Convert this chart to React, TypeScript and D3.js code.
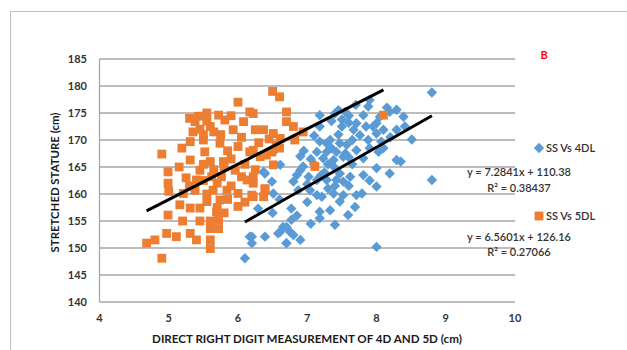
import React from "react";
import * as d3 from "d3";

const xTicks = [4, 5, 6, 7, 8, 9, 10];
const yTicks = [140, 145, 150, 155, 160, 165, 170, 175, 180, 185];

// SS Vs 4DL (blue diamonds)
const dl4X = [6.51, 6.61, 6.39, 6.49, 6.51, 6.29, 6.17, 6.39, 6.1, 6.61, 6.7, 6.7,
  8.8, 7.9, 7.88, 7.18, 7.4, 7.5, 7.6, 7.71, 7.81, 8.19, 8.29, 8.39, 8.0, 8.1, 8.0, 8.29, 8.41, 8.51,
  7.18, 7.5, 7.67, 7.76, 7.88, 8.07, 7.28, 7.18, 7.33, 7.47, 7.57, 7.14, 7.28, 7.42, 7.23, 7.38, 7.52,
  7.71, 7.81, 8.03, 8.29, 8.0, 8.19, 8.8, 8.0, 7.81, 7.62, 7.47, 7.38, 6.94, 6.9, 7.02, 7.14, 7.28,
  7.42, 7.52, 6.8, 6.87, 7.04, 7.14, 7.21, 7.38, 7.52, 7.71, 7.79, 7.47, 7.33, 7.18, 7.18, 7.4, 7.69,
  7.59, 6.77, 6.77, 6.65, 6.58, 6.75, 6.8, 6.9, 6.7, 6.2, 6.2, 8.0, 6.37,
  6.95, 7.05, 7.6, 7.45, 7.95, 8.2, 7.9, 7.65, 7.3, 7.0, 8.35,
  7.25, 7.35, 7.45, 7.55, 7.3, 7.1, 7.2, 7.6, 7.4, 7.0, 6.85, 7.65, 7.85, 8.05, 7.55, 7.35, 7.1, 6.9,
  6.6, 6.5, 6.85, 7.05, 7.9, 7.6, 8.1, 8.15, 7.7];
const dl4Y = [167.8, 165.4, 163.8, 162.3, 160.1, 157.3, 152.1, 152.1, 148.1, 153, 153.9, 150.9,
  178.8, 177.4, 176.2, 174.6, 174.9, 173.8, 173.2, 173.1, 174.6, 175.2, 175.6, 174.3, 173.1, 171.9, 171.2, 171.9, 172.5, 170.1,
  172.5, 172.5, 171.9, 170.9, 170, 169.7, 169.4, 169.7, 170, 169.4, 169.1, 167.8, 167.8, 167.8, 166.6, 166.3, 166.9,
  168.1, 166.6, 167.8, 166.3, 164.8, 163.8, 162.6, 161.4, 163.5, 163.2, 163.8, 165.1, 165.1, 164.4, 163.2, 162.6, 162.6,
  162.6, 162.3, 162.3, 160.7, 160.7, 159.8, 159.5, 160.1, 159.8, 159.8, 160.1, 158.6, 157, 156.7, 155.5, 154.3, 157.6,
  156.1, 157.3, 155.2, 153.9, 152.7, 153, 152.4, 151.5, 150.9, 152.1, 150.9, 150.2, 164.1,
  168, 166.5, 174.5, 175.5, 172.5, 170.5, 168.5, 165.5, 161, 158.5, 166,
  164, 168.5, 171, 167.5, 165.5, 165.5, 163.5, 161.5, 161.5, 161.8, 163.5, 170, 172.5, 174.3, 175.2, 173.5, 170.8, 167,
  159, 156.5, 156, 154.5, 162.5, 166.8, 168.5, 176, 176.5];

// SS Vs 5DL (orange squares)
const dl5X = [6.5, 6.6, 6.0, 6.7, 5.43, 5.38, 5.72, 5.81, 5.6, 6.17, 6.08, 5.93, 6.25, 6.37, 6.51, 6.7,
  4.9, 5.19, 5.31, 5.31, 5.5, 5.52, 5.74, 5.6, 5.79, 6.0, 6.17, 6.32, 6.49, 6.51, 5.45, 5.62, 5.76,
  5.96, 6.05, 6.13, 4.99, 4.99, 5.21, 5.4, 5.38, 5.64, 5.84, 5.55, 5.74, 6.0, 6.2, 6.39, 6.37, 5.31,
  5.16, 5.45, 5.69, 6.0, 4.99, 5.72, 5.6, 5.72, 4.97, 5.11, 5.31, 5.4, 5.6, 5.6, 4.68, 4.8, 4.9,
  6.22, 6.61, 6.82, 6.94, 8.1, 6.22, 6.41, 6.22, 6.22, 6.39, 6.22, 7.11,
  5.0, 5.45, 5.5, 5.65, 5.9, 5.55, 5.5, 5.65, 5.7, 5.55, 5.7, 5.85, 5.6, 5.8, 6.3, 6.45, 6.6,
  5.3, 5.55, 5.35, 5.75, 5.85, 5.9, 6.1, 6.05, 5.25, 5.3, 5.15, 5.5, 5.9, 6.1, 5.45, 5.2, 5.8, 6.25, 6.55, 6.8];
const dl5Y = [179, 178, 177, 175.2, 174.4, 173.4, 174.6, 173.7, 172.5, 175.2, 173.4, 171.9, 171.9, 171.9, 171.2, 173.4,
  167.4, 168.5, 169.7, 166.3, 170, 167.8, 169.4, 166, 166, 168.8, 167.8, 166.9, 167.8, 165.4, 164.4, 163.2, 163.2,
  164.4, 163.2, 162.6, 164.1, 162, 160.1, 162.6, 160.7, 160.7, 160.7, 158.6, 158.9, 160.1, 159.8, 161, 159.5, 157.4,
  158, 157.4, 156.7, 157.7, 156.1, 155.2, 153.6, 153.6, 152.7, 152.1, 152.7, 151.5, 151.5, 149.9, 150.9, 151.5, 148.1,
  174.9, 170.3, 170, 171.5, 174.6, 168.1, 167.2, 163.2, 162, 160.7, 159.5, 165.1,
  160.5, 172, 171, 171.5, 174.5, 175, 165.5, 164.5, 162, 160, 157.5, 159, 155, 165, 169.5, 170.2, 168.5,
  174, 173.5, 171.5, 171, 168, 166.5, 165.5, 170.5, 163, 161.5, 165, 162.5, 161.5, 158.5, 155, 155, 156.5, 164.5, 169, 172.5];

const fit4 = { slope: 7.2841, intercept: 110.38, eq: "y = 7.2841x + 110.38", r2: "R² = 0.38437" };
const fit5 = { slope: 6.5601, intercept: 126.16, eq: "y = 6.5601x + 126.16", r2: "R² = 0.27066" };

const BLUE = "#5B9BD5";
const ORANGE = "#ED7D31";
const TXT = "#333333";
const FONT = "Lato, 'Open Sans', sans-serif";

export default function App() {
  const W = 627, H = 350;
  const x = d3.scaleLinear().domain([4, 10]).range([99.5, 515]);
  const y = d3.scaleLinear().domain([140, 185]).range([302, 59]);

  const diamond = "M0,-5.2L5.2,0L0,5.2L-5.2,0Z";
  const square = d3.symbol().type(d3.symbolSquare).size(78)();

  const trend = (xs: number[], f: { slope: number; intercept: number }) => {
    const [x0, x1] = d3.extent(xs) as [number, number];
    return d3.line<number>().x((d) => x(d)).y((d) => y(f.slope * d + f.intercept))([x0, x1]) || "";
  };

  return (
    <svg width={W} height={H} style={{ position: "absolute", left: 0, top: 0, display: "block" }}
      fontFamily={FONT}>
      <rect x={0} y={0} width={W} height={H} fill="#fff" />
      <rect x={10.5} y={11.5} width={W + 20} height={H + 20} fill="none" stroke="#c0c0c0" strokeWidth={1} />
      {yTicks.map((t) => (
        <line key={t} x1={x(4)} x2={x(10)} y1={y(t)} y2={y(t)} stroke="#a6a6a6" strokeWidth={1.3} />
      ))}
      <line x1={x(4)} x2={x(4)} y1={y(185)} y2={y(140)} stroke="#a6a6a6" strokeWidth={1.3} />
      {yTicks.map((t) => (
        <text key={t} x={87} y={y(t)} dy="0.35em" textAnchor="end" fontSize={11} fontWeight="bold" fill={TXT}>{t}</text>
      ))}
      {xTicks.map((t) => (
        <text key={t} x={x(t)} y={318} dy="0.35em" textAnchor="middle" fontSize={11} fontWeight="bold" fill={TXT}>{t}</text>
      ))}
      <text x={307} y={339} dy="0.35em" textAnchor="middle" fontSize={11.6} fontWeight="bold" fill="#1a1a1a">
        DIRECT RIGHT DIGIT MEASUREMENT OF 4D AND 5D (cm)
      </text>
      <text transform={`translate(55,${(y(185) + y(140)) / 2 + 2}) rotate(-90)`} dy="0.35em" textAnchor="middle"
        fontSize={11.4} fontWeight="bold" fill="#1a1a1a">
        STRETCHED STATURE (cm)
      </text>
      {dl4X.map((v, i) => (
        <path key={"b" + i} d={diamond} transform={`translate(${x(v)},${y(dl4Y[i])})`} fill={BLUE} />
      ))}
      {dl5X.map((v, i) => (
        <path key={"o" + i} d={square} transform={`translate(${x(v)},${y(dl5Y[i])})`} fill={ORANGE} />
      ))}
      <path d={trend(dl4X, fit4)} stroke="#000" strokeWidth={3} fill="none" />
      <path d={trend(dl5X, fit5)} stroke="#000" strokeWidth={3} fill="none" />
      <path d={diamond} transform="translate(539,148)" fill={BLUE} />
      <text x={546} y={148} dy="0.35em" fontSize={11} fontWeight={600} fill={TXT}>SS Vs 4DL</text>
      <path d={square} transform="translate(539,216)" fill={ORANGE} />
      <text x={546} y={216} dy="0.35em" fontSize={11} fontWeight={600} fill={TXT}>SS Vs 5DL</text>
      <text x={519} y={172} dy="0.35em" textAnchor="middle" fontSize={11} fontWeight={600} fill={TXT}>{fit4.eq}</text>
      <text x={519} y={188} dy="0.35em" textAnchor="middle" fontSize={11} fontWeight={600} fill={TXT}>{fit4.r2}</text>
      <text x={519} y={237} dy="0.35em" textAnchor="middle" fontSize={11} fontWeight={600} fill={TXT}>{fit5.eq}</text>
      <text x={519} y={252} dy="0.35em" textAnchor="middle" fontSize={11} fontWeight={600} fill={TXT}>{fit5.r2}</text>
      <text x={544} y={55} dy="0.35em" textAnchor="middle" fontSize={11} fontWeight="bold" fill="#ff0000">B</text>
    </svg>
  );
}
